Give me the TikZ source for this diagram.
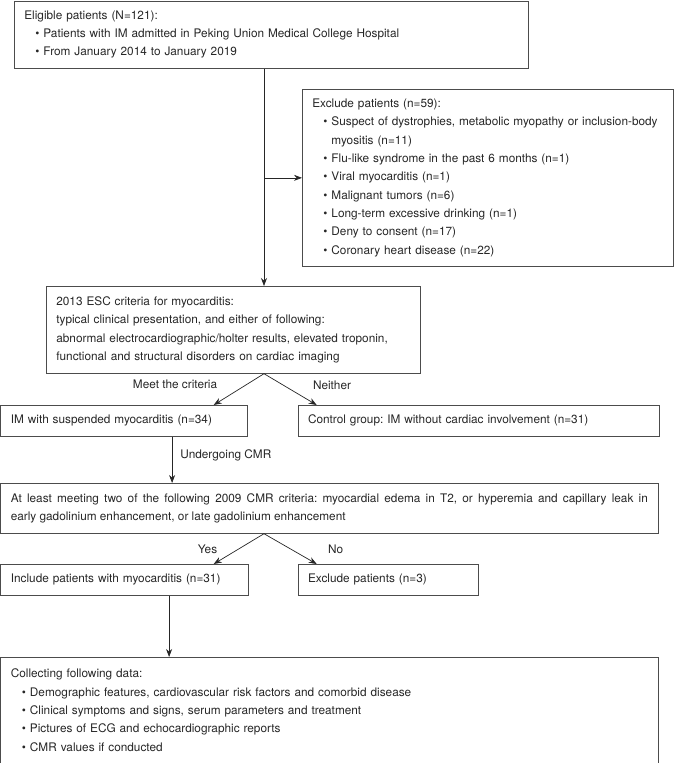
\documentclass[tikz,border=0pt]{standalone}
\usepackage{fontspec}
\setmainfont{TeX Gyre Heros}
\usetikzlibrary{arrows.meta, positioning}
\newcommand\itm{\hspace*{11pt}\textbullet\hspace{4pt}}
\newcommand\itmgap{\hspace*{11pt}\phantom{\textbullet}\hspace{4pt}}

\begin{document}
\begin{tikzpicture}[x=1pt, y=-1pt, >={Stealth[length=8pt, width=6pt]}, line width=0.7pt,
	box/.style={draw=black!70, anchor=north west, inner xsep=10pt, inner ysep=0pt, align=left, text=black!85, font=\fontsize{11.8}{18.3}\selectfont\frenchspacing},
	link/.style={->, draw=black!85},
	lbl/.style={text=black!85, font=\fontsize{11.8}{14}\selectfont}]
		\useasboundingbox (0,0) rectangle (674,763);
		\coordinate (spine) at (264,0);
		\node[box, text width=494pt, minimum height=67.5pt]	(elig) at (14,0.5)	{Eligible patients (N=121):\\
			\itm Patients with IM admitted in Peking Union Medical College Hospital\\
			\itm From January 2014 to January 2019};
		\node[box, text width=351pt, minimum height=177pt]	(excl) at (302,89)	{Exclude patients (n=59):\\
			\itm Suspect of dystrophies, metabolic myopathy or inclusion-body\\
			\itmgap myositis (n=11)\\
			\itm Flu-like syndrome in the past 6 months (n=1)\\
			\itm Viral myocarditis (n=1)\\
			\itm Malignant tumors (n=6)\\
			\itm Long-term excessive drinking (n=1)\\
			\itm Deny to consent (n=17)\\
			\itm Coronary heart disease (n=22)};
		\node[box, text width=354pt, minimum height=87pt]	(esc) at (46,286)	{2013 ESC criteria for myocarditis:\\
			typical clinical presentation, and either of following:\\
			abnormal electrocardiographic/holter results, elevated troponin,\\
			functional and structural disorders on cardiac imaging};
		\node[box, text width=226.5pt, minimum height=31pt]	(susp) at (0.5,405)	{IM with suspended myocarditis (n=34)};
		\node[box, text width=341pt, minimum height=31pt]	(ctrl) [right=50pt of susp.north east, anchor=north west]	{Control group: IM without cardiac involvement (n=31)};
		\node[box, align=justify, text width=637pt, minimum height=50pt]	(cmr) at (0.5,483)	{At least meeting two of the following 2009 CMR criteria: myocardial edema in T2, or hyperemia and capillary leak in\linebreak
			early gadolinium enhancement, or late gadolinium enhancement};
		\node[box, text width=227.5pt, minimum height=31pt]	(incl) at (0.5,564)	{Include patients with myocarditis (n=31)};
		\node[box, text width=160pt, minimum height=31pt]	(exc3) [right=49pt of incl.north east, anchor=north west]	{Exclude patients (n=3)};
		\node[box, text width=637pt, minimum height=105.5pt]	(coll) at (0.5,657)	{Collecting following data:\\
			\itm Demographic features, cardiovascular risk factors and comorbid disease\\
			\itm Clinical symptoms and signs, serum parameters and treatment\\
			\itm Pictures of ECG and echocardiographic reports\\
			\itm CMR values if conducted};
		% connectors
		\coordinate (fork1) at (esc.south -| spine);
		\coordinate (fork2) at (cmr.south -| spine);
		\coordinate (drop1) at ([xshift=48pt]susp.south);
		\coordinate (drop2) at ([xshift=44.5pt]incl.south);
		\draw[link] (elig.south -| spine) -- (esc.north -| spine);
		\draw[link] (excl.west -| spine) -- (excl.west);
		\draw[link] (fork1) -- ([xshift=-34pt]susp.north east) node[lbl, midway, left=18pt, yshift=5pt] {Meet the criteria};
		\draw[link] (fork1) -- ([xshift=19pt]ctrl.north west) node[lbl, midway, right=19pt, yshift=4pt] {Neither};
		\draw[link] (drop1) -- (drop1 |- cmr.north) node[lbl, midway, right=4.5pt, yshift=4pt] {Undergoing CMR};
		\draw[link] (fork2) -- ([xshift=-35pt]incl.north east) node[lbl, midway, left=18pt] {Yes};
		\draw[link] (fork2) -- ([xshift=19pt]exc3.north west) node[lbl, midway, right=34pt] {No};
		\draw[link] (drop2) -- (drop2 |- coll.north);
\end{tikzpicture}
\end{document}
